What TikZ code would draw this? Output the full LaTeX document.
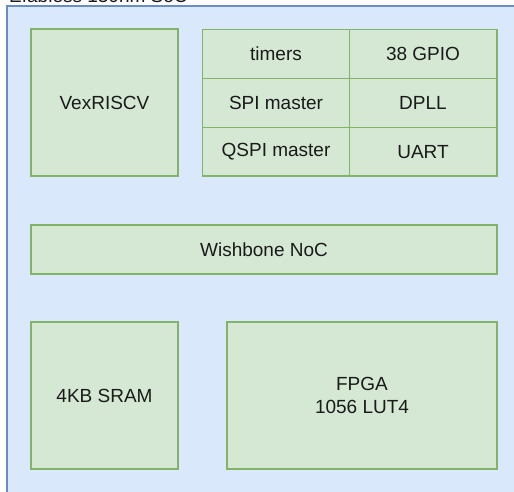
\documentclass[tikz,border=0pt]{standalone}
\usepackage{fontspec}
\setmainfont{Liberation Sans}
\definecolor{gfill}{HTML}{D5E8D4}
\definecolor{gline}{HTML}{82B366}
\definecolor{bfill}{HTML}{DAE8FC}
\definecolor{bline}{HTML}{6C8EBF}
\definecolor{txt}{HTML}{1A1A1A}
\tikzset{
  blk/.style={draw=gline, fill=gfill, line width=1.3pt, text=txt, align=center,
    font=\fontsize{19}{23}\selectfont},
  cell/.style={text=txt, font=\fontsize{19}{23}\selectfont, anchor=center},
}
\begin{document}
\begin{tikzpicture}[x=1pt,y=-1pt]
\useasboundingbox (0,0) rectangle (514,491);
\clip (0,0) rectangle (514,491);
\fill[white] (0,0) rectangle (514,491);
% outer container
\draw[draw=bline, fill=bfill, line width=1.3pt] (7,6) rectangle (540,520);
\node[anchor=base west, inner sep=0pt, text=txt, font=\fontsize{19}{23}\selectfont] (title) at (9,2) {Efabless 130nm SoC};
% VexRISCV
\node[blk, minimum width=147pt, minimum height=147pt] (cpu) at (104.5,102.5) {VexRISCV};
% peripherals grid
\draw[draw=gline, fill=gfill, line width=1.3pt] (202.5,29.5) rectangle (497,176);
\draw[draw=gline, line width=1.3pt] (349.5,29.5) -- (349.5,176);
\draw[draw=gline, line width=1.3pt] (202.5,78.3) -- (497,78.3);
\draw[draw=gline, line width=1.3pt] (202.5,127.3) -- (497,127.3);
\node[cell] (timers) at (276,54) {timers};
\node[cell] (gpio) at (423,54) {38 GPIO};
\node[cell] (spi) at (276,102.8) {SPI master};
\node[cell] (dpll) at (423,102.8) {DPLL};
\node[cell] (qspi) at (276,151.7) {QSPI master};
\node[cell] (uart) at (423,151.7) {UART};
% Wishbone
\node[blk, minimum width=466pt, minimum height=49pt] (noc) at (264,249.5) {Wishbone NoC};
% SRAM and FPGA
\node[blk, minimum width=147pt, minimum height=147pt] (sram) at (104.5,395.5) {4KB SRAM};
\node[blk, minimum width=270pt, minimum height=147pt] (fpga) at (362,395.5) {FPGA\\1056 LUT4};
\end{tikzpicture}
\end{document}
